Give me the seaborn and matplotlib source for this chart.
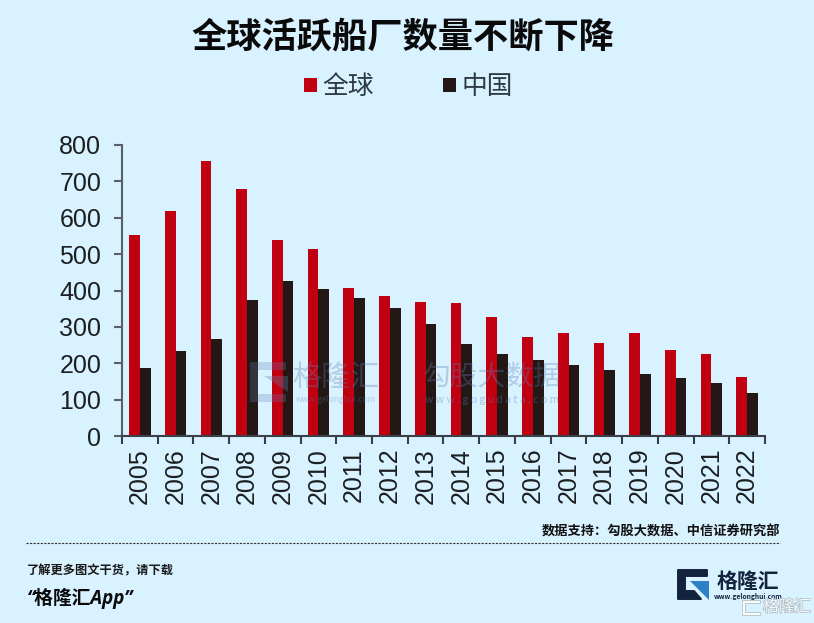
import numpy as np
import pandas as pd
import seaborn as sns
import matplotlib
matplotlib.use("Agg")
import matplotlib.pyplot as plt
import matplotlib.patheffects as pe
from matplotlib.patches import Polygon

years = [str(y) for y in range(2005, 2023)]
global_counts = [552, 618, 757, 678, 540, 514, 408, 384, 368, 366, 327, 273, 282, 256, 283, 237, 226, 163]
china_counts = [186, 233, 268, 375, 427, 404, 380, 352, 307, 252, 226, 208, 196, 182, 170, 160, 146, 118]
series_names = ["全球", "中国"]
y_ticks = [0, 100, 200, 300, 400, 500, 600, 700, 800]
title = "全球活跃船厂数量不断下降"
source = "数据支持\uff1a勾股大数据、中信证券研究部"
prompt = "了解更多图文干货\uff0c请下载"

BG = "#d9f2ff"
sns.set_theme(style="white")
plt.rcParams["font.family"] = ["Noto Sans CJK SC", "DejaVu Sans"]

df = pd.DataFrame({
    "year": years * 2,
    "series": [series_names[0]] * len(years) + [series_names[1]] * len(years),
    "count": global_counts + china_counts,
})

W, H = 814, 623
fig = plt.figure(figsize=(W / 100, H / 100), dpi=100, facecolor=BG)
ax = fig.add_axes([122 / W, (H - 436) / H, (765 - 122) / W, (436 - 145) / H], facecolor=BG)
sns.barplot(data=df, x="year", y="count", hue="series", order=years, hue_order=series_names,
            palette=["#c00010", "#231815"], width=0.6, gap=0, saturation=1, errorbar=None,
            linewidth=0, ax=ax)
ax.set_xlim(-0.5, 17.5)
ax.set_ylim(0, 800)
ax.set_yticks(y_ticks)
ax.set_xlabel("")
ax.set_ylabel("")
ax.set_xticks(np.arange(-0.5, 18), minor=True)
ax.tick_params(axis="x", which="minor", length=6, width=1.5, color="#3a4048", bottom=True)
ax.tick_params(axis="x", which="major", length=0, pad=8.5)
ax.tick_params(axis="y", length=6, width=1.5, color="#5a6068", left=True, pad=9)
for lab in ax.get_xticklabels():
    lab.set(rotation=90, fontfamily="Liberation Sans", fontsize=18, color="#1c1f22")
for lab in ax.get_yticklabels():
    lab.set(fontfamily="Liberation Sans", fontsize=18, color="#1c1f22")
sns.despine(ax=ax)
ax.spines["left"].set(color="#5a6068", linewidth=1.5)
ax.spines["bottom"].set(color="#3a4048", linewidth=1.5)

handles, labels = ax.get_legend_handles_labels()
ax.legend(handles, labels, loc="center", bbox_to_anchor=(408.5 / W, (H - 87) / H),
          bbox_transform=fig.transFigure, ncol=2, frameon=False, fontsize=18.5,
          handlelength=0.48, handleheight=0.48, handletextpad=0.22, columnspacing=2.71,
          labelcolor="#2e3a44")

# page furniture in pixel coordinates
ov = fig.add_axes([0, 0, 1, 1], facecolor="none")
ov.set_xlim(0, W)
ov.set_ylim(H, 0)
ov.axis("off")

ov.text(402.5, 37, title, ha="center", va="center", fontsize=25.4, fontweight="bold", color="#0a0a0a")

# watermark
wm = "#5f7fb0"
ov.text(336, 378, "格隆汇", ha="center", va="center", fontsize=21, color=wm, alpha=0.33)
ov.text(492, 377, "勾股大数据", ha="center", va="center", fontsize=20, color=wm, alpha=0.33)
ov.text(336, 399, "www.gelonghui.com", ha="center", va="center", fontsize=6, color=wm, alpha=0.33)
ov.text(492, 400, "w w w . g o g u d a t a . c o m", ha="center", va="center", fontsize=7.5, color=wm, alpha=0.4)
ov.add_patch(Polygon([(250, 362), (286, 362), (286, 370), (258, 370), (258, 394), (286, 394),
                      (286, 402), (250, 402)], closed=True, color=wm, alpha=0.28, lw=0))
ov.add_patch(Polygon([(264, 376), (288, 376), (288, 392)], closed=True, color=wm, alpha=0.33, lw=0))

ov.text(780, 532, source, ha="right", va="center", fontsize=9.5, fontweight="bold", color="#111111")
ov.plot([26, 780], [543, 543], color="#333333", lw=0.8, ls=(0, (2, 1.2)))

ov.text(27, 571, prompt, ha="left", va="center", fontsize=8.8,
        fontweight="bold", style="italic", color="#1a1a1a")
ov.text(27, 598, "“格隆汇App”", ha="left", va="center", fontsize=13.5, fontweight="bold", style="italic",
        family=["Open Sans", "Noto Sans CJK SC"], color="#0a0a0a")

# logo
navy = "#14233d"
ov.add_patch(Polygon([(678, 570), (707, 570), (707, 576), (685, 576), (685, 591), (694, 591), (701, 599), (678, 599)],
                     closed=True, facecolor=navy, edgecolor=navy, lw=1.4, joinstyle="round"))
ov.add_patch(Polygon([(690, 581), (709, 581), (709, 600)], closed=True, color="#2f7fc8", lw=0))
ov.text(748, 581, "格隆汇", ha="center", va="center", fontsize=15, fontweight="bold", color=navy)
ov.text(748, 597, "www.gelonghui.com", ha="center", va="center", fontsize=4.8, fontweight="bold", color=navy)
ov.text(787, 607, "格隆汇", ha="center", va="center", fontsize=11.5, color="#f6fbfd",
        path_effects=[pe.withStroke(linewidth=1.0, foreground="#a9b7bf")])
ov.add_patch(Polygon([(742, 600), (760, 600), (760, 603), (745, 603), (745, 612), (760, 612), (760, 615), (742, 615)],
                     closed=True, facecolor="#f6fbfd", edgecolor="#a9b7bf", lw=0.5))

fig.savefig("out.png", dpi=100, facecolor=BG)
